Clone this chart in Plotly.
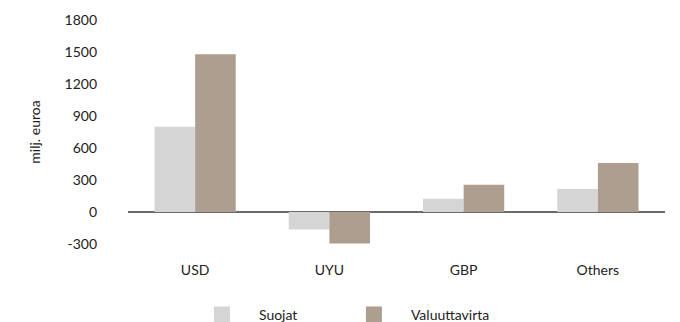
import plotly.graph_objects as go

# Currency exposure by currency, million euros
categories = ["USD", "UYU", "GBP", "Others"]
suojat = [800, -165, 125, 215]
valuuttavirta = [1480, -295, 255, 460]
y_ticks = [-300, 0, 300, 600, 900, 1200, 1500, 1800]
y_tick_labels = ["-300", "0", "300", "600", "900", "1200", "1500", "1800"]

series = [
    ("Suojat", suojat, "#d5d5d5"),
    ("Valuuttavirta", valuuttavirta, "#ae9e8f"),
]

FONT = "Lato"
TEXT = "#222222"

fig = go.Figure()
for name, values, color in series:
    fig.add_trace(go.Bar(
        x=categories, y=values, name=name, showlegend=False,
        legendgroup=name, marker=dict(color=color, line=dict(width=0)),
    ))
# Larger square swatches for the legend
for name, values, color in series:
    fig.add_trace(go.Scatter(
        x=[None], y=[None], mode="markers", name=name, legendgroup=name,
        marker=dict(symbol="square", size=17, color=color, line=dict(width=0)),
    ))

fig.update_layout(
    width=680, height=322,
    margin=dict(l=128, r=15, t=20, b=78, autoexpand=False),
    paper_bgcolor="white", plot_bgcolor="white",
    barmode="group", bargap=0.395, bargroupgap=0,
    font=dict(family=FONT, size=14, color=TEXT),
    showlegend=True,
    legend=dict(
        orientation="h", x=0.106, xanchor="left", y=-0.245, yanchor="top",
        itemwidth=64, entrywidth=73, entrywidthmode="pixels",
        font=dict(family=FONT, size=14, color=TEXT),
        itemclick=False, itemdoubleclick=False,
    ),
)
fig.update_xaxes(
    showgrid=False, showline=False, zeroline=False, automargin=False,
    ticks="", ticklabelstandoff=16,
    tickfont=dict(family=FONT, size=14, color=TEXT),
)
fig.update_yaxes(
    range=[-300, 1800], tickvals=y_ticks, ticktext=y_tick_labels,
    showgrid=False, showline=False, automargin=False,
    zeroline=True, zerolinecolor="#6b6b6b", zerolinewidth=2,
    ticks="", ticklabelstandoff=30,
    tickfont=dict(family=FONT, size=14, color=TEXT),
    title=dict(text="milj. euroa", standoff=20,
               font=dict(family=FONT, size=14, color=TEXT)),
)

fig.write_html("out.html")
